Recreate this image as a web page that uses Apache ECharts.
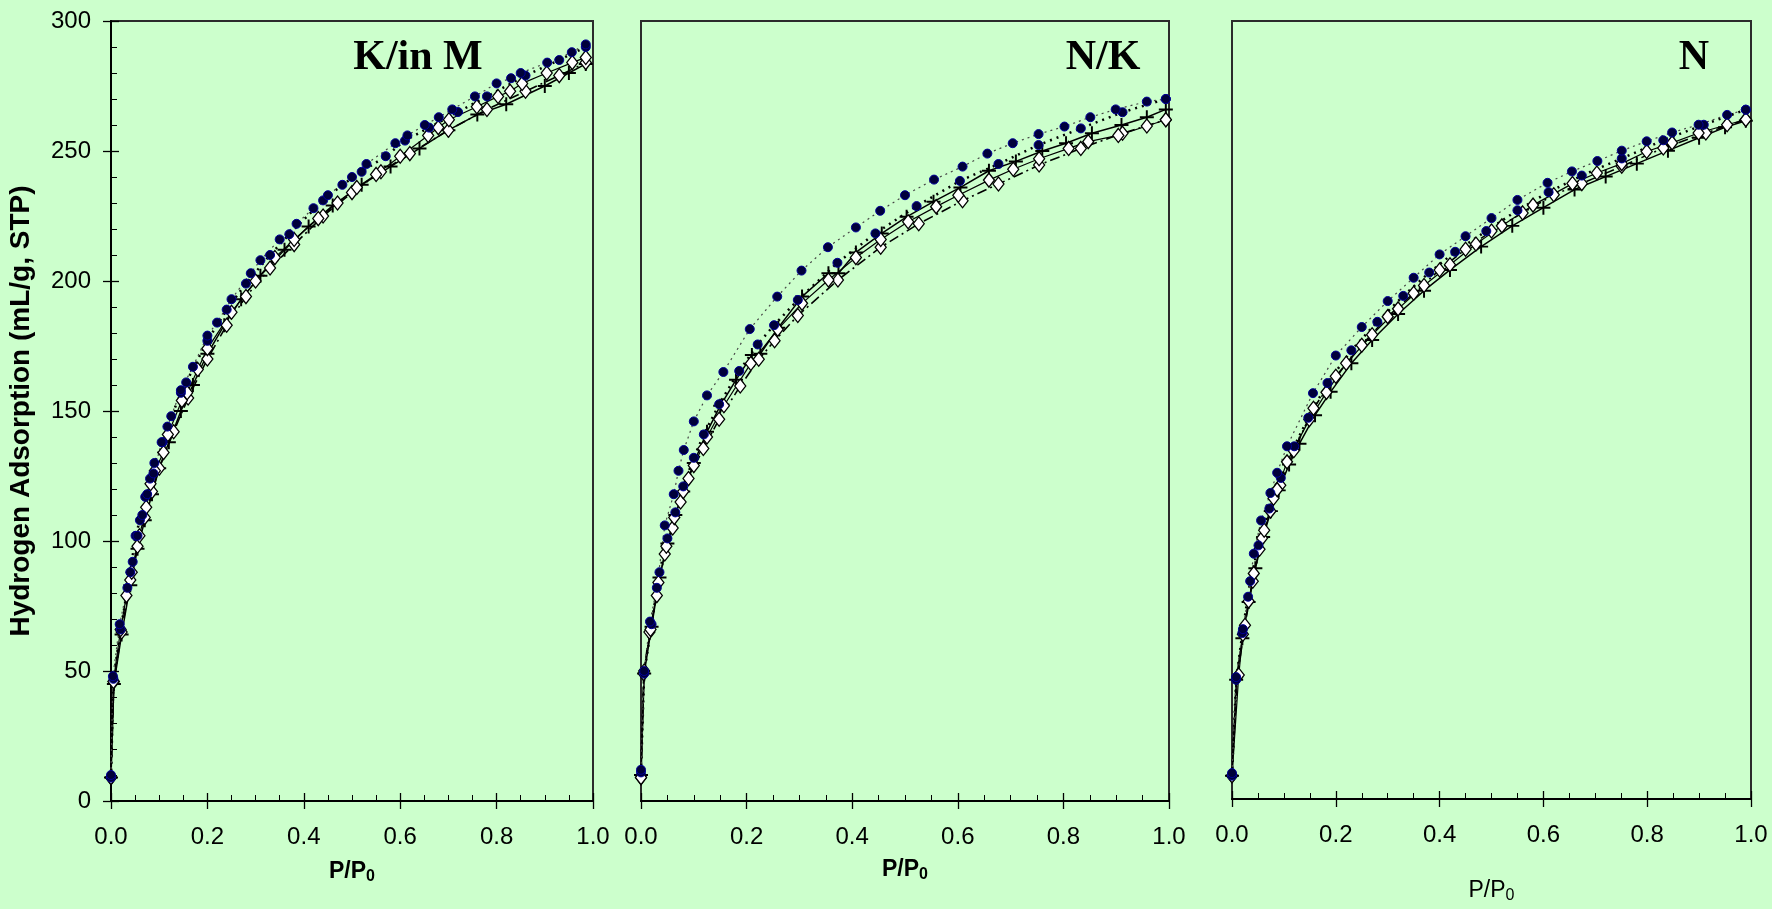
<!DOCTYPE html>
<html>
<head>
<meta charset="utf-8">
<title>Hydrogen adsorption isotherms</title>
<script src="https://cdn.jsdelivr.net/npm/echarts@6/dist/echarts.min.js"></script>
<style>
  html, body { margin: 0; padding: 0; background: #ccffcc; }
  #chart { width: 1772px; height: 909px; }
</style>
</head>
<body>
<div id="chart"></div>
<script>
// panel titles
const panelTitles = ['K/in M', 'N/K', 'N'];
const xTicks = [0, 0.2, 0.4, 0.6, 0.8, 1.0];
const yTicks = [0, 50, 100, 150, 200, 250, 300];

// ---- K/in M ----
const p1A_x = [0, 0.004, 0.018, 0.034, 0.045, 0.055, 0.065, 0.075, 0.088, 0.105, 0.125, 0.145, 0.17, 0.2, 0.22, 0.25, 0.29, 0.31, 0.35, 0.385, 0.42, 0.45, 0.5, 0.53, 0.59, 0.615, 0.651, 0.68, 0.708, 0.755, 0.80, 0.83, 0.85, 0.905, 0.956, 0.985];
const p1A_y = [10, 48, 68, 82, 92, 102, 110, 118, 126, 138, 148, 158, 167, 179, 184, 193, 203, 208, 216, 222, 228, 233, 240, 245, 253, 256, 260, 263, 266, 271, 276, 278, 280, 284, 288, 291];
const p1B_x = [0, 0.005, 0.02, 0.04, 0.051, 0.06, 0.071, 0.081, 0.09, 0.107, 0.117, 0.145, 0.156, 0.2, 0.24, 0.28, 0.33, 0.37, 0.44, 0.48, 0.52, 0.57, 0.61, 0.66, 0.72, 0.78, 0.86, 0.93, 0.985];
const p1B_y = [9, 47, 66, 88, 102, 108, 117, 124, 130, 138, 144, 157, 161, 177, 189, 199, 210, 218, 231, 237, 242, 248, 254, 259, 265, 271, 279, 285, 290];
const p1C_x = [0, 0.006, 0.022, 0.04, 0.055, 0.07, 0.085, 0.1, 0.12, 0.145, 0.17, 0.2, 0.235, 0.27, 0.31, 0.36, 0.41, 0.46, 0.52, 0.58, 0.64, 0.7, 0.76, 0.82, 0.9, 0.95, 0.985];
const p1C_y = [9, 45, 64, 83, 97, 108, 118, 128, 138, 150, 160, 172, 183, 193, 202, 212, 221, 229, 237, 244, 251, 258, 264, 268, 275, 280, 283.5];
const p1D_x = [0, 0.005, 0.02, 0.032, 0.043, 0.059, 0.073, 0.082, 0.091, 0.109, 0.118, 0.147, 0.158, 0.18, 0.2, 0.25, 0.3, 0.34, 0.38, 0.43, 0.47, 0.51, 0.55, 0.6, 0.658, 0.679, 0.701, 0.759, 0.803, 0.828, 0.853, 0.904, 0.957, 0.985];
const p1D_y = [9, 46, 66, 79, 88, 102, 113, 122, 127, 134, 141, 154, 157, 166, 174, 188, 200, 209, 216, 224, 230, 236, 241, 248, 256, 259, 262, 267, 271, 273, 276, 280, 284, 286];
const p1E_x = [0, 0.006, 0.022, 0.04, 0.055, 0.07, 0.085, 0.1, 0.13, 0.16, 0.2, 0.24, 0.28, 0.33, 0.38, 0.44, 0.5, 0.56, 0.62, 0.7, 0.78, 0.86, 0.93, 0.985];
const p1E_y = [9, 46, 65, 85, 98, 109, 119, 128, 142, 155, 170, 183, 194, 205, 214, 225, 234, 242, 249, 258, 266, 273, 279, 284];

// ---- N/K ----
const p2A_x = [0, 0.006, 0.017, 0.03, 0.045, 0.062, 0.071, 0.081, 0.1, 0.125, 0.156, 0.206, 0.258, 0.304, 0.354, 0.407, 0.453, 0.5, 0.555, 0.609, 0.656, 0.704, 0.753, 0.802, 0.851, 0.899, 0.958, 0.994];
const p2A_y = [12, 50, 69, 82, 106, 118, 127, 135, 146, 156, 165, 181.5, 194, 204, 213, 220.6, 227, 233, 239, 244, 249, 253, 256.5, 259.4, 263, 266, 269, 270];
const p2B_x = [0, 0.006, 0.02, 0.035, 0.05, 0.065, 0.08, 0.1, 0.119, 0.148, 0.186, 0.221, 0.252, 0.297, 0.372, 0.444, 0.522, 0.604, 0.677, 0.753, 0.833, 0.912, 0.994];
const p2B_y = [11, 49, 68, 88, 101, 111, 121, 132, 141, 152.6, 165.4, 175.6, 183, 192.7, 207, 218.3, 228.8, 238.5, 245, 252.3, 258.7, 264.9, 270];
const p2C_x = [0, 0.006, 0.02, 0.035, 0.05, 0.065, 0.08, 0.1, 0.125, 0.15, 0.18, 0.21, 0.226, 0.26, 0.305, 0.355, 0.374, 0.407, 0.456, 0.503, 0.554, 0.605, 0.659, 0.71, 0.76, 0.805, 0.854, 0.91, 0.958, 0.994];
const p2C_y = [10, 49, 67, 86, 99, 110, 119, 130, 142, 152, 162, 171.5, 172, 182, 194, 203, 203, 211, 218.3, 224.7, 230.5, 236, 242.4, 246, 250, 253, 256.8, 260, 263, 266];
const p2D_x = [0, 0.006, 0.018, 0.033, 0.048, 0.063, 0.08, 0.1, 0.125, 0.157, 0.208, 0.259, 0.305, 0.355, 0.407, 0.454, 0.506, 0.559, 0.601, 0.659, 0.705, 0.754, 0.81, 0.847, 0.904, 0.958, 0.994];
const p2D_y = [9, 50, 66, 84, 98, 109, 119, 129, 140, 152, 168.3, 181.4, 191.4, 200.4, 209, 216, 222.8, 228.6, 233, 238.8, 243, 247, 251, 253.6, 256, 259.6, 262];
const p2E_x = [0, 0.005, 0.016, 0.03, 0.045, 0.06, 0.075, 0.09, 0.118, 0.148, 0.188, 0.223, 0.253, 0.297, 0.373, 0.454, 0.526, 0.609, 0.677, 0.754, 0.833, 0.912, 0.994];
const p2E_y = [9, 49, 65, 79, 95, 105, 115, 124, 135.6, 146.8, 159.6, 169.9, 177, 186.7, 200.4, 213, 222, 230.9, 237.3, 244.6, 251, 256.8, 262];

// ---- N ----
const p3A_x = [0, 0.008, 0.021, 0.031, 0.042, 0.056, 0.074, 0.087, 0.106, 0.156, 0.2, 0.25, 0.3, 0.35, 0.4, 0.45, 0.5, 0.55, 0.608, 0.655, 0.704, 0.751, 0.799, 0.848, 0.899, 0.954, 0.99];
const p3A_y = [10, 47, 65.5, 78, 94.6, 107.4, 118, 125.8, 136, 156.5, 171, 182, 192, 201, 210, 217, 224, 231, 237.6, 242, 246, 250, 253.6, 257, 260, 263.8, 265.8];
const p3B_x = [0, 0.008, 0.02, 0.035, 0.051, 0.072, 0.094, 0.12, 0.147, 0.184, 0.23, 0.28, 0.33, 0.38, 0.43, 0.49, 0.55, 0.61, 0.674, 0.751, 0.831, 0.909, 0.99];
const p3B_y = [9, 46, 64, 84, 97.8, 112, 123.8, 136, 147, 160.4, 173, 184, 194, 203, 211, 219, 227, 234, 240.4, 247, 254, 260, 265.8];
const p3C_x = [0, 0.008, 0.02, 0.032, 0.045, 0.06, 0.075, 0.09, 0.11, 0.13, 0.16, 0.19, 0.23, 0.27, 0.32, 0.37, 0.42, 0.48, 0.54, 0.6, 0.66, 0.72, 0.78, 0.84, 0.9, 0.95, 0.99];
const p3C_y = [9, 46, 62, 76, 89, 101, 111, 119, 129, 137, 148, 157, 168, 177, 187, 196, 204, 213, 221, 228, 235, 240, 245, 250, 255, 259, 261.5];
const p3D_x = [0, 0.013, 0.021, 0.032, 0.042, 0.053, 0.062, 0.074, 0.087, 0.106, 0.149, 0.182, 0.22, 0.27, 0.32, 0.37, 0.42, 0.47, 0.52, 0.58, 0.656, 0.703, 0.751, 0.799, 0.848, 0.899, 0.954, 0.99];
const p3D_y = [9, 47.8, 63.5, 76.3, 87, 96.3, 103.6, 111, 119.3, 130, 146.3, 156.8, 168, 179, 189, 198, 206, 214, 221, 229, 237.3, 241.4, 245, 249.7, 253, 256.8, 260, 262];
const p3E_x = [0, 0.01, 0.025, 0.04, 0.058, 0.08, 0.093, 0.119, 0.157, 0.2, 0.25, 0.3, 0.35, 0.4, 0.45, 0.5, 0.56, 0.62, 0.674, 0.751, 0.831, 0.913, 0.99];
const p3E_y = [9, 47, 67, 84, 100.6, 116, 121, 134.3, 150.7, 163, 175, 186, 195, 204, 212, 219, 226, 233, 237.3, 244, 251, 256.8, 262];

const panels = [
  { A: [p1A_x, p1A_y], B: [p1B_x, p1B_y], C: [p1C_x, p1C_y], D: [p1D_x, p1D_y], E: [p1E_x, p1E_y] },
  { A: [p2A_x, p2A_y], B: [p2B_x, p2B_y], C: [p2C_x, p2C_y], D: [p2D_x, p2D_y], E: [p2E_x, p2E_y] },
  { A: [p3A_x, p3A_y], B: [p3B_x, p3B_y], C: [p3C_x, p3C_y], D: [p3D_x, p3D_y], E: [p3E_x, p3E_y] }
];

const SANS = 'Liberation Sans, Arial, sans-serif';
const PLUS = 'path://M4.3,0h1.4v4.3h4.3v1.4h-4.3v4.3h-1.4v-4.3h-4.3v-1.4h4.3z';

const styles = {
  C: { symbol: PLUS, symbolSize: 14, itemStyle: { color: '#000' }, lineStyle: { color: '#000', width: 1.5, type: 'solid' } },
  D: { symbol: 'diamond', symbolSize: [11, 14], itemStyle: { color: '#fff', borderColor: '#000', borderWidth: 1.3 }, lineStyle: { color: '#000', width: 1.2, type: 'solid' } },
  E: { symbol: 'diamond', symbolSize: [11, 14], itemStyle: { color: '#fff', borderColor: '#000', borderWidth: 1.3 }, lineStyle: { color: '#000', width: 1.6, type: [10, 4, 2, 4] } },
  B: { symbol: 'circle', symbolSize: 9, itemStyle: { color: '#00003a', borderColor: '#000099', borderWidth: 1 }, lineStyle: { color: '#000', width: 2.5, type: [2, 5] } },
  A: { symbol: 'circle', symbolSize: 9, itemStyle: { color: '#00003a', borderColor: '#000099', borderWidth: 1 }, lineStyle: { color: '#444', width: 1.2, type: [2, 4] } }
};

const grids = [
  { left: 111, top: 21, width: 482, height: 780 },
  { left: 641, top: 21, width: 528, height: 780 },
  { left: 1232, top: 21, width: 519, height: 780 }
].map(g => Object.assign({ show: true, borderColor: '#2b2b2b', borderWidth: 2, backgroundColor: 'transparent' }, g));

const xNames = [
  { text: '{a|P/P}{b|0}', bold: 'bold', gap: 58 },
  { text: '{a|P/P}{b|0}', bold: 'bold', gap: 56 },
  { text: '{a|P/P}{b|0}', bold: 'normal', gap: 79 }
];

const xAxes = [];
grids.forEach((g, i) => {
  const base = { gridIndex: i, type: 'value', min: 0, max: 1, interval: 0.2, position: 'bottom', splitLine: { show: false } };
  xAxes.push(Object.assign({}, base, {
    axisLine: { show: true, onZero: false, lineStyle: { color: '#000', width: 2 } },
    axisTick: { show: true, inside: false, length: 8, lineStyle: { color: '#000', width: 1.3 } },
    axisLabel: { show: true, margin: 24, fontSize: 24, color: '#000', fontFamily: SANS,
      formatter: v => xTicks.find(t => Math.abs(t - v) < 1e-9).toFixed(1) },
    name: xNames[i].text, nameLocation: 'middle', nameGap: xNames[i].gap,
    nameTextStyle: {
      rich: {
        a: { fontSize: 23, fontWeight: xNames[i].bold, fontFamily: SANS, color: '#000', lineHeight: 26, verticalAlign: 'middle' },
        b: { fontSize: 16, fontWeight: xNames[i].bold, fontFamily: SANS, color: '#000', lineHeight: 14, verticalAlign: 'bottom' }
      }
    }
  }));
  xAxes.push(Object.assign({}, base, {
    axisLine: { show: false, onZero: false },
    axisTick: { show: true, inside: true, length: 8, lineStyle: { color: '#000', width: 1.3 } },
    minorTick: { show: true, splitNumber: 4, length: 6, lineStyle: { color: '#000', width: 1 } },
    axisLabel: { show: false }
  }));
});

const yBase = { type: 'value', min: 0, max: 300, interval: 50, position: 'left', splitLine: { show: false } };
const yAxes = [
  Object.assign({}, yBase, {
    gridIndex: 0,
    axisLine: { show: true, onZero: false, lineStyle: { color: '#000', width: 2 } },
    axisTick: { show: true, inside: false, length: 8, lineStyle: { color: '#000', width: 1.3 } },
    axisLabel: { show: true, margin: 20, fontSize: 24, color: '#000', fontFamily: SANS,
      formatter: v => String(yTicks.find(t => t === v)) },
    name: 'Hydrogen Adsorption (mL/g, STP)', nameLocation: 'middle', nameGap: 76,
    nameTextStyle: { fontSize: 28, fontWeight: 'bold', fontFamily: SANS, color: '#000' }
  }),
  Object.assign({}, yBase, {
    gridIndex: 0,
    axisLine: { show: false, onZero: false },
    axisTick: { show: true, inside: true, length: 8, lineStyle: { color: '#000', width: 1.3 } },
    minorTick: { show: true, splitNumber: 5, length: 6, lineStyle: { color: '#000', width: 1 } },
    axisLabel: { show: false }
  }),
  Object.assign({}, yBase, { gridIndex: 1, axisLine: { show: false }, axisTick: { show: false }, axisLabel: { show: false } }),
  Object.assign({}, yBase, { gridIndex: 2, axisLine: { show: false }, axisTick: { show: false }, axisLabel: { show: false } })
];
const yIndexForGrid = [0, 2, 3];

const series = [];
panels.forEach((p, i) => {
  ['C', 'E', 'D', 'B', 'A'].forEach(key => {
    const xs = p[key][0], ys = p[key][1];
    series.push(Object.assign({
      type: 'line',
      xAxisIndex: i * 2,
      yAxisIndex: yIndexForGrid[i],
      data: xs.map((x, k) => [x, ys[k]]),
      showAllSymbol: true,
      animation: false,
      silent: true
    }, styles[key]));
  });
});

const titleX = [418, 1103, 1694];
const graphics = panelTitles.map((t, i) => ({
  type: 'text', x: titleX[i], y: 58, z: 100,
  style: { text: t, font: 'bold 42px "Liberation Serif", "Times New Roman", serif', fill: '#000', textAlign: 'center', textVerticalAlign: 'middle' }
}));

const chart = echarts.init(document.getElementById('chart'), null, { renderer: 'canvas' });
chart.setOption({
  backgroundColor: '#ccffcc',
  animation: false,
  grid: grids,
  xAxis: xAxes,
  yAxis: yAxes,
  series: series,
  graphic: graphics
});
</script>
</body>
</html>
